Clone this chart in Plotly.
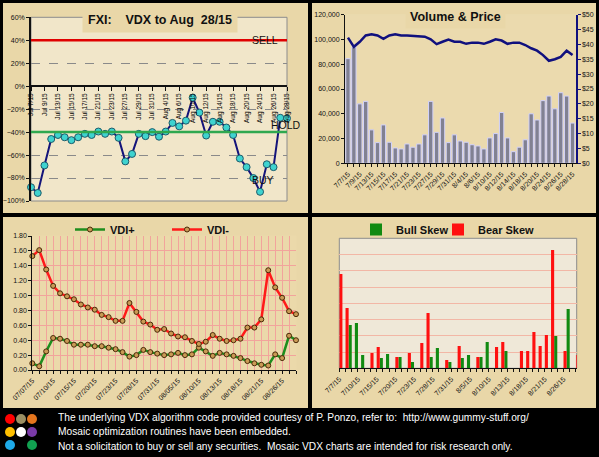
import plotly.graph_objects as go
import pandas as pd

W, H = 599, 457

# ---- data ----
dates = [
    "2015-07-07", "2015-07-08", "2015-07-09", "2015-07-10", "2015-07-13",
    "2015-07-14", "2015-07-15", "2015-07-16", "2015-07-17", "2015-07-20",
    "2015-07-21", "2015-07-22", "2015-07-23", "2015-07-24", "2015-07-27",
    "2015-07-28", "2015-07-29", "2015-07-30", "2015-07-31", "2015-08-03",
    "2015-08-04", "2015-08-05", "2015-08-06", "2015-08-07", "2015-08-10",
    "2015-08-11", "2015-08-12", "2015-08-13", "2015-08-14", "2015-08-17",
    "2015-08-18", "2015-08-19", "2015-08-20", "2015-08-21", "2015-08-24",
    "2015-08-25", "2015-08-26", "2015-08-27", "2015-08-28",
]

vdx = [-88, -93, -69, -46, -42.5, -44.5, -47, -44.5, -41.5, -42.5,
       -39.5, -41.5, -39.5, -45, -65.5, -59, -41.5, -43.5, -40, -44,
       -39.5, -32, -35, -30, -10, -23, -43, -31, -31, -36,
       -42.5, -63, -70.5, -80, -92, -68, -70.5, -27.5, -28]

volume = [84500, 94000, 48000, 50000, 27000, 16700, 31000, 17000, 12400, 11600,
          15600, 13000, 15600, 23000, 50000, 25000, 36600, 16700, 23000, 18000,
          17000, 15000, 14000, 11600, 20500, 24000, 41000, 20500, 9400, 13000,
          19000, 40000, 35000, 50600, 54300, 44000, 57000, 54300, 32500]

price = [42.3, 39.2, 40.9, 43.0, 43.4, 43.0, 41.9, 43.0, 43.4, 43.0,
         43.0, 42.8, 42.7, 42.6, 41.7, 40.1, 40.9, 41.6, 40.9, 40.9,
         40.2, 40.6, 40.6, 40.2, 40.9, 41.7, 41.3, 40.2, 40.6, 40.6,
         39.8, 38.7, 37.9, 36.4, 34.5, 35.0, 35.8, 37.9, 36.4]

vdi_plus = [0.09, 0.05, 0.25, 0.43, 0.42, 0.39, 0.34, 0.34, 0.34, 0.32,
            0.32, 0.30, 0.28, 0.24, 0.18, 0.20, 0.27, 0.24, 0.22, 0.20,
            0.21, 0.23, 0.20, 0.21, 0.30, 0.25, 0.19, 0.23, 0.21, 0.19,
            0.16, 0.12, 0.09, 0.07, 0.06, 0.21, 0.16, 0.46, 0.40]

vdi_minus = [1.53, 1.61, 1.35, 1.13, 1.03, 0.99, 0.95, 0.88, 0.84, 0.81,
             0.74, 0.71, 0.66, 0.66, 0.90, 0.78, 0.65, 0.61, 0.54, 0.55,
             0.49, 0.45, 0.44, 0.39, 0.35, 0.38, 0.47, 0.42, 0.39, 0.40,
             0.42, 0.57, 0.57, 0.68, 1.34, 1.11, 0.97, 0.79, 0.75]

bull_skew = [None, 2.67, 2.79, 0.82, None, None, 0.64, 0.88, None, 0.70,
             None, 0.39, None, None, 0.70, 1.25, None, 0.39, None, 0.64,
             0.82, None, 0.70, 1.62, None, None, 1.07, None, None, None,
             None, None, None, None, 1.99, None, 3.65, None, None]

bear_skew = [5.81, 3.71, None, None, None, 0.94, 1.31, None, None, 0.70,
             None, 0.94, None, 1.56, 3.41, None, None, 0.51, None, 1.37,
             None, None, 0.70, None, None, 1.31, 1.62, None, None, 1.07,
             1.07, 2.24, 1.37, 2.05, 7.28, None, 1.07, None, 0.82]

SELL, HOLD, BUY = 40, -40, -80

footer = [
    "The underlying VDX algorithm code provided courtesy of P. Ponzo, refer to:  http://www.gummy-stuff.org/",
    "Mosaic optimization routines have been embedded.",
    "Not a solicitation to buy or sell any securities.  Mosaic VDX charts are intended for risk research only.",
]

d = pd.to_datetime(dates)
lbl_mon = [f"{t:%b} {t.day}/{t:%y}" for t in d]
lbl_short = [f"{t.month}/{t.day}/{t:%y}" for t in d]
lbl_long = [f"{t:%m/%d/%y}" for t in d]


def fx(p):
    return p / W


def fy(p):
    return 1 - p / H


PANEL = "#E9D7A8"
FONT = "Liberation Sans, Arial, sans-serif"
tickfont = dict(family=FONT, size=7, color="#111111")

fig = go.Figure()

# top-left: VDX
fig.add_trace(go.Scatter(
    x=dates, y=vdx, mode="lines+markers", xaxis="x", yaxis="y",
    line=dict(color="#14147A", width=2),
    marker=dict(size=7, color="#3FD3CF", line=dict(color="#1D5A6A", width=1)),
    cliponaxis=False, showlegend=False))

# top-right: volume & price
fig.add_trace(go.Bar(
    x=dates, y=volume, xaxis="x2", yaxis="y2", width=0.74,
    marker=dict(color="#818192", line=dict(color="#D2D2FA", width=1)),
    showlegend=False))
fig.add_trace(go.Scatter(
    x=dates, y=price, mode="lines", xaxis="x2", yaxis="y3",
    line=dict(color="#10107E", width=2.5), showlegend=False))

# bottom-left: VDI
mk = dict(size=5, color="#C99A55", line=dict(color="#4A2A08", width=1))
fig.add_trace(go.Scatter(
    x=dates, y=vdi_plus, name="VDI+", mode="lines+markers", xaxis="x4", yaxis="y4",
    line=dict(color="#1E8E1E", width=2.5), marker=mk, cliponaxis=False, legend="legend"))
fig.add_trace(go.Scatter(
    x=dates, y=vdi_minus, name="VDI-", mode="lines+markers", xaxis="x4", yaxis="y4",
    line=dict(color="#FF1A1A", width=2.5), marker=mk, cliponaxis=False, legend="legend2"))

# bottom-right: skew bars
fig.add_trace(go.Bar(
    x=dates, y=bull_skew, name="Bull Skew", xaxis="x5", yaxis="y5",
    offset=0.5, width=0.5, marker=dict(color="#118A11", line=dict(width=0)),
    legend="legend3"))
fig.add_trace(go.Bar(
    x=dates, y=bear_skew, name="Bear Skew", xaxis="x5", yaxis="y5",
    offset=0.0, width=0.5, marker=dict(color="#FF1010", line=dict(width=0)),
    legend="legend4"))

# ---- shapes: panels and plot areas ----
shapes = []
for x0, y0, x1, y1 in [(3, 3, 308, 213), (312, 3, 596, 213),
                       (3, 217, 308, 408), (312, 217, 596, 408)]:
    shapes.append(dict(type="rect", xref="paper", yref="paper", layer="below",
                       x0=fx(x0), x1=fx(x1), y0=fy(y1), y1=fy(y0),
                       fillcolor=PANEL, line=dict(width=0)))
for ax, fill, border in [("", "#F1E6C9", "#8C8C8C"), ("2", "#EBDAAE", "#EBDAAE"),
                         ("4", "#EBD9AA", "#EBD9AA"), ("5", "#EFE8D8", "#8C8C8C")]:
    shapes.append(dict(type="rect", xref=f"x{ax} domain", yref=f"y{ax} domain",
                       layer="below", x0=0, x1=1, y0=0, y1=1,
                       fillcolor=fill, line=dict(color=border, width=1)))
shapes.append(dict(type="line", xref="x domain", yref="y", x0=0, x1=1, y0=SELL, y1=SELL,
                   line=dict(color="#E00000", width=2.5)))
shapes.append(dict(type="line", xref="x domain", yref="y", x0=0, x1=1, y0=HOLD, y1=HOLD,
                   line=dict(color="#2FA84F", width=2.5)))

# logo dots
dot_colors = [["#FF0000", "#9A8F63", "#E5761E"],
              ["#FFC000", "#FFFFFF", "#7A3AA8"],
              ["#1EAAE8", None, "#11A050"]]
for r, row in enumerate(dot_colors):
    for c, col in enumerate(row):
        if col is None:
            continue
        cx, cy = 10 + c * 11, 419 + r * 13
        shapes.append(dict(type="circle", xref="paper", yref="paper",
                           x0=fx(cx - 5), x1=fx(cx + 5), y0=fy(cy + 5), y1=fy(cy - 5),
                           fillcolor=col, line=dict(width=0)))

# ---- annotations ----
ann = [
    dict(text="<b>FXI:\u00a0\u00a0\u00a0\u00a0VDX to Aug\u00a0 28/15</b>", xref="paper", yref="paper",
         x=fx(160), y=fy(20), xanchor="center", yanchor="middle", showarrow=False,
         font=dict(family=FONT, size=12.5, color="#111"), bgcolor=PANEL, borderpad=5),
    dict(text="<b>Volume & Price</b>", xref="paper", yref="paper",
         x=fx(455), y=fy(17), xanchor="center", yanchor="middle", showarrow=False,
         font=dict(family=FONT, size=12.5, color="#111"), bgcolor=PANEL, borderpad=4),
    dict(text="SELL", xref="x", yref="y", x=34.7, y=SELL, showarrow=False,
         xanchor="center", yanchor="middle", font=dict(family=FONT, size=10.5, color="#111")),
    dict(text="HOLD", xref="x", yref="y", x=37.9, y=-34, showarrow=False,
         xanchor="center", yanchor="middle", font=dict(family=FONT, size=10.5, color="#111")),
    dict(text="BUY", xref="x", yref="y", x=34.4, y=BUY - 2, showarrow=False,
         xanchor="center", yanchor="middle", font=dict(family=FONT, size=10.5, color="#111")),
]
for i, line in enumerate(footer):
    ann.append(dict(text=line, xref="paper", yref="paper", x=fx(56), y=fy(417 + i * 14.5),
                    xanchor="left", yanchor="middle", showarrow=False,
                    font=dict(family=FONT, size=10.2, color="white")))

axis_common = dict(type="category", showgrid=False, zeroline=False, showline=True,
                   linecolor="#111", ticks="outside", ticklen=3, tickcolor="#111",
                   tickfont=tickfont, automargin=False)
yax_common = dict(zeroline=False, ticks="outside", ticklen=3, tickcolor="#111",
                  tickfont=tickfont, automargin=False)
legend_font = dict(family=FONT, size=11, color="#111", weight="bold")


def legend_at(px_x):
    return dict(orientation="h", x=fx(px_x), y=fy(215), xanchor="left", yanchor="top",
                bgcolor="rgba(0,0,0,0)", itemwidth=30, font=legend_font)


fig.update_layout(
    template="none",
    width=W, height=H, autosize=False,
    margin=dict(l=0, r=0, t=0, b=0, pad=0, autoexpand=False),
    font=dict(family=FONT, size=10, color="#111"),
    paper_bgcolor="black", plot_bgcolor="rgba(0,0,0,0)",
    barmode="overlay", shapes=shapes, annotations=ann,
    xaxis=dict(axis_common, domain=[fx(31), fx(287)], range=[0, len(dates) - 1],
               anchor="free", position=fy(86), tickvals=dates[::2], ticktext=lbl_mon[::2],
               tickangle=-90, linewidth=1.5, ticklen=4,
               tickfont=dict(tickfont, size=6.5, color="#000")),
    yaxis=dict(yax_common, domain=[fy(201), fy(17.3)], range=[-100, 60], dtick=20,
               ticksuffix="%", showgrid=True, gridcolor="#8A8A8A", griddash="dash",
               gridwidth=1, showline=True, linecolor="#111", linewidth=1.5, anchor="x"),
    xaxis2=dict(axis_common, domain=[fx(345), fx(575.5)], range=[-0.5, len(dates) - 0.5],
                anchor="y2", tickvals=dates,
                ticktext=[t if i % 2 == 0 else "" for i, t in enumerate(lbl_short)],
                tickangle=-45),
    yaxis2=dict(yax_common, domain=[fy(163.3), fy(14.7)], range=[0, 120000], dtick=20000,
                tickformat=",", showgrid=False, showline=True, linecolor="#111",
                anchor="x2"),
    yaxis3=dict(yax_common, overlaying="y2", side="right", anchor="x2", range=[0, 50],
                dtick=5, tickprefix="$", showgrid=False, showline=True,
                linecolor="#10107E", linewidth=2, tickcolor="#10107E"),
    xaxis4=dict(axis_common, domain=[fx(32.3), fx(296)], range=[0, len(dates) - 1],
                anchor="y4", tickvals=dates,
                ticktext=[t if i % 3 == 0 else "" for i, t in enumerate(lbl_long)],
                tickangle=-45, showgrid=True, gridcolor="#F2A49C", gridwidth=1),
    yaxis4=dict(yax_common, domain=[fy(370), fy(236)], range=[0, 1.8], dtick=0.2,
                tickformat=".2f", showgrid=True, gridcolor="#F2A49C", gridwidth=1,
                showline=True, linecolor="#111", anchor="x4"),
    xaxis5=dict(axis_common, domain=[fx(339.3), fx(576.7)], range=[0, 38.12],
                anchor="y5", tickvals=dates,
                ticktext=[t if i % 3 == 0 else "" for i, t in enumerate(lbl_short)],
                tickangle=-45),
    yaxis5=dict(yax_common, domain=[fy(368.3), fy(238.3)], range=[0, 8], dtick=1,
                showticklabels=False, ticks="", showgrid=True, gridcolor="#F2B7A6",
                gridwidth=1, showline=False, anchor="x5"),
    legend=legend_at(70),
    legend2=legend_at(167),
    legend3=legend_at(356),
    legend4=legend_at(438),
)

fig.write_html(
    "out.html",
    config={"displayModeBar": False},
    post_script="document.body.style.margin='0px';"
                "document.body.style.background='black';"
                "document.body.style.overflow='hidden';",
)
